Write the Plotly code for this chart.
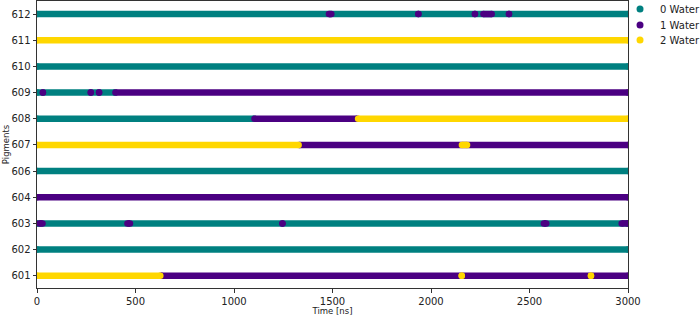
import plotly.graph_objects as go

# Pigment rows (bottom to top) and water-state segments: (start_ns, end_ns, n_water)
pigments = ["601", "602", "603", "604", "606", "607", "608", "609", "610", "611", "612"]

seg_601 = [(0, 626, 2), (630, 3000, 1), (2156, 2156, 2), (2812, 2812, 2)]
seg_602 = [(0, 3000, 0)]
seg_603 = [(0, 3000, 0), (12, 28, 1), (459, 472, 1), (1246, 1246, 1), (2573, 2585, 1), (2968, 3000, 1)]
seg_604 = [(0, 3000, 1)]
seg_606 = [(0, 3000, 0)]
seg_607 = [(0, 1328, 2), (1332, 3000, 1), (2157, 2183, 2)]
seg_608 = [(0, 1102, 0), (1104, 1625, 1), (1630, 3000, 2)]
seg_609 = [(0, 396, 0), (30, 30, 1), (273, 273, 1), (315, 315, 1), (398, 3000, 1)]
seg_610 = [(0, 3000, 0)]
seg_611 = [(0, 3000, 2)]
seg_612 = [(0, 3000, 0), (1482, 1494, 1), (1936, 1936, 1), (2223, 2223, 1), (2266, 2308, 1), (2396, 2396, 1)]

segments = {
    "601": seg_601, "602": seg_602, "603": seg_603, "604": seg_604, "606": seg_606,
    "607": seg_607, "608": seg_608, "609": seg_609, "610": seg_610, "611": seg_611,
    "612": seg_612,
}

states = [0, 1, 2]
state_names = ["0 Water", "1 Water", "2 Water"]
state_colors = ["#008080", "#4B0082", "#FFD700"]

x_ticks = [0, 500, 1000, 1500, 2000, 2500, 3000]

fig = go.Figure()

SIZE = 6.5
for st, name, col in zip(states, state_names, state_colors):
    xs, ys = [], []
    for p in pigments:
        for (a, b, s) in segments[p]:
            if s == st:
                xs += [a, b, None]
                ys += [p, p, None]
    fig.add_trace(go.Scatter(
        x=xs, y=ys, mode="lines+markers",
        line=dict(color=col, width=SIZE),
        marker=dict(color=col, size=SIZE, line=dict(width=0)),
        showlegend=False, hoverinfo="skip", connectgaps=False,
    ))

legend_ids = ["legend", "legend2", "legend3"]
legend_y = [0.972, 0.916, 0.864]
for name, col, lid in zip(state_names, state_colors, legend_ids):
    fig.add_trace(go.Scatter(
        x=[None], y=[None], mode="markers", name=name, legend=lid,
        marker=dict(color=col, size=7),
    ))

axis_common = dict(
    showline=True, mirror=True, linecolor="#333333", linewidth=1,
    ticks="outside", ticklen=3.5, tickwidth=1, tickcolor="#333333",
    showgrid=False, zeroline=False, automargin=False,
    tickfont=dict(family="DejaVu Sans", size=10, color="#222222"),
)

legend_common = dict(
    x=0.9865, xanchor="left", yanchor="middle",
    font=dict(family="DejaVu Sans", size=10, color="#222222"),
    bgcolor="rgba(0,0,0,0)", borderwidth=0, tracegroupgap=0,
)

fig.update_layout(
    width=700, height=317,
    margin=dict(l=37, r=72, t=1, b=29, autoexpand=False),
    paper_bgcolor="white", plot_bgcolor="white",
    font=dict(family="DejaVu Sans", color="#222222"),
    xaxis=dict(range=[0, 3000], tickvals=x_ticks,
               title=dict(text="Time [ns]", font=dict(size=8.5), standoff=1),
               **axis_common),
    yaxis=dict(type="category", categoryorder="array", categoryarray=pigments,
               range=[-0.47, 10.5],
               title=dict(text="Pigments", font=dict(size=8.5), standoff=0),
               **axis_common),
    legend=dict(y=legend_y[0], **legend_common),
    legend2=dict(y=legend_y[1], **legend_common),
    legend3=dict(y=legend_y[2], **legend_common),
    showlegend=True,
    hovermode=False,
)

fig.write_html("out.html", config={"displayModeBar": False},
               post_script="document.body.style.margin='0';")
